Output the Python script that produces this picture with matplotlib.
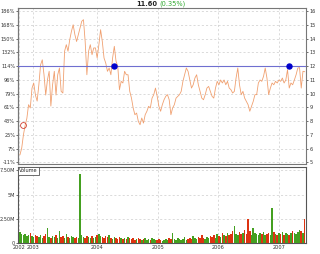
import numpy as np
import pandas as pd
import matplotlib
matplotlib.use("Agg")
import matplotlib.pyplot as plt
import matplotlib.dates as mdates

# closing prices (roughly every 10 days)
close = [5.56, 6.04, 7.0, 7.7, 8.2, 9.2, 8.96, 10.4, 10.78, 9.9,
         9.46, 10.65, 12.1, 12.47, 11.38, 9.9, 11.0, 11.63, 9.1, 10.65,
         11.63, 9.9, 11.38, 11.87, 10.17, 10.05, 13.09, 13.57, 13.09, 13.93,
         14.54, 15.02, 14.3, 13.8, 14.3, 14.78, 15.27, 15.39, 13.8, 11.38,
         13.09, 13.57, 12.84, 13.33,
         13.33, 12.6, 13.57, 14.66, 13.8, 12.6, 12.23, 11.63, 11.87, 11.38,
         12.6, 13.45, 12.36, 12.0, 10.29, 10.9, 10.78, 11.63, 11.38, 11.38,
         10.17, 9.68, 8.96, 8.47, 8.59, 7.99, 7.74, 8.23, 7.86, 8.47,
         8.72, 9.08, 8.96, 9.68, 9.93, 10.41, 9.81, 9.08, 8.72,
         9.2, 9.56, 9.81, 9.93, 9.56, 8.47, 8.96, 9.2, 9.68, 9.81,
         9.93, 10.17, 10.9, 11.38, 11.87, 11.63, 11.0, 10.41, 10.65, 11.14,
         11.38, 10.65, 10.17, 9.68, 9.56, 9.93, 10.41, 10.53, 10.17, 9.81,
         9.68, 10.41, 10.9, 10.65, 11.0, 10.78, 11.0, 10.65, 10.9, 10.41,
         10.29, 10.05, 10.17, 11.14, 11.87, 10.65, 9.93, 10.17, 9.68, 9.44,
         9.2, 8.72, 9.08, 9.44, 9.93, 9.93, 10.78, 11.0, 10.9, 11.26,
         11.87, 11.14, 9.93, 10.41, 10.78, 10.65, 10.9, 10.78, 11.0, 10.9,
         11.14, 10.78, 11.0, 11.75, 10.41, 10.78, 10.65, 11.0, 11.38, 11.87,
         11.9, 10.41, 11.63, 11.6]

# volume in millions
volume = [1.1, 0.9, 0.8, 0.9, 0.7, 0.8, 1.0, 0.7, 0.6, 0.8,
          0.7, 0.6, 0.8, 0.5, 0.7, 0.9, 1.5, 0.6, 0.5, 0.7,
          0.6, 0.8, 0.5, 1.2, 0.6, 0.7, 0.5, 0.9, 0.6, 0.5,
          0.7, 0.6, 0.5, 0.6, 0.5, 7.1, 0.8, 0.6, 0.5, 0.7,
          0.6, 0.5, 0.7, 0.5, 0.6, 0.8, 0.9, 0.7, 0.6, 0.5,
          0.7, 0.6, 0.8, 0.5, 0.4, 0.6, 0.5, 0.4, 0.6, 0.5,
          0.4, 0.5, 0.4, 0.6, 0.5, 0.4, 0.5, 0.3, 0.4, 0.5,
          0.4, 0.3, 0.4, 0.5, 0.3, 0.4, 0.3, 0.5, 0.4, 0.3,
          0.3, 0.4, 0.3, 0.2, 0.3, 0.4, 0.3, 0.5, 0.4, 1.0,
          0.4, 0.3, 0.5, 0.4, 0.3, 0.4, 0.6, 0.3, 0.4, 0.5,
          0.4, 0.7, 0.5, 0.4, 0.6, 0.5, 0.8, 0.5, 0.4, 0.6,
          0.5, 0.7, 0.6, 0.8, 0.5, 0.9, 0.7, 0.6, 1.0, 0.8,
          0.7, 1.0, 0.8, 0.9, 1.2, 1.8, 0.9, 0.8, 1.1, 0.9,
          1.0, 1.3, 0.9, 2.5, 1.2, 0.8, 1.6, 1.0, 0.9, 0.8,
          1.0, 0.9, 1.1, 0.8, 0.9, 1.0, 0.8, 3.6, 1.1, 0.9,
          0.8, 1.0, 0.9, 1.1, 0.8, 1.0, 0.9, 0.8, 1.0, 1.2,
          1.0, 0.9, 1.1, 1.3, 1.2, 1.0, 2.5]

dates = pd.date_range("2002-09-25", "2007-06-04", periods=len(close))

price_ticks = [5, 6, 7, 8, 9, 10, 11, 12, 13, 14, 15, 16]
pct_labels = ["-11%", "7%", "25%", "43%", "61%", "79%", "96%", "114%",
              "132%", "150%", "168%", "186%"]
vol_ticks = [0, 2.5, 5, 7.5]
vol_labels = ["0", "2.50M", "5M", "7.50M"]
year_ticks = ["2002-09-20", "2002-12-10", "2004-01-01", "2005-01-01",
              "2006-01-01", "2007-01-01"]
year_labels = ["2002", "2003", "2004", "2005", "2006", "2007"]

level = 12.0
level_marks = ["2004-04-13", "2007-03-01"]
start_mark = ("2002-10-11", 7.7)

fs = 3.6
grid_kw = dict(color="#cccccc", linestyle=(0, (3, 3)), linewidth=0.5)

fig = plt.figure(figsize=(3.2, 2.54), dpi=100)
ax = fig.add_axes([0.05625, 0.3543, 0.9, 0.6142])
axv = fig.add_axes([0.05625, 0.0433, 0.9, 0.2992], sharex=ax)

xt = pd.to_datetime(year_ticks)

# price panel
ax.plot(dates, close, color="#f0a070", linewidth=0.6, zorder=3)
ax.axhline(level, color="#6f6fd0", linewidth=0.8, zorder=4)
ax.plot(pd.to_datetime(level_marks), [level, level], "o", color="#0000cc",
        markersize=3.6, zorder=5)
ax.plot(pd.to_datetime([start_mark[0]]), [start_mark[1]], "o", mfc="none",
        mec="#d04030", markersize=4.2, markeredgewidth=0.6, zorder=5)
ax.set_ylim(4.88, 16.24)
ax.set_xlim(pd.Timestamp("2002-09-13"), pd.Timestamp("2007-06-12"))
ax.yaxis.tick_right()
ax.set_yticks(price_ticks)
ax.set_yticklabels([str(p) for p in price_ticks])
sec = ax.secondary_yaxis("left")
sec.set_yticks(price_ticks)
sec.set_yticklabels(pct_labels)
sec.tick_params(labelsize=fs, length=1.5, width=0.5, pad=0.5, colors="#333333")
ax.tick_params(axis="y", labelsize=fs, length=1.5, width=0.5, pad=1, colors="#333333")
ax.set_xticks(xt)
ax.tick_params(axis="x", labelbottom=False, length=0)
ax.grid(True, **grid_kw)
for s in ax.spines.values():
    s.set_color("#777777")
    s.set_linewidth(0.8)
sec.spines["left"].set_color("#777777")

# title
fig.text(0.4922, 0.984, "11.60", fontsize=4.8, fontweight="bold",
         ha="right", va="center", color="#222222")
fig.text(0.4985, 0.984, "(0.35%)", fontsize=4.8, ha="left", va="center",
         color="#33aa33")

# volume panel
cols = ["#44a020" if i == 0 or close[i] >= close[i - 1] else "#dd3311"
        for i in range(len(close))]
axv.bar(dates, volume, width=9, color=cols, linewidth=0, zorder=3)
axv.set_ylim(0, 7.85)
axv.set_yticks(vol_ticks)
axv.set_yticklabels(vol_labels)
axv.set_xticks(xt)
axv.set_xticklabels(year_labels)
axv.tick_params(axis="y", labelsize=fs, length=1.5, width=0.5, pad=0.5, colors="#333333")
axv.tick_params(axis="x", labelsize=fs, length=0, pad=1.5, colors="#333333")
axv.grid(True, **grid_kw)
for s in axv.spines.values():
    s.set_color("#555555")
    s.set_linewidth(0.8)
axv.text(0.004, 0.985, "Volume", transform=axv.transAxes, fontsize=fs,
         ha="left", va="top", color="#222222",
         bbox=dict(boxstyle="square,pad=0.3", fc="white", ec="#555555", lw=0.6))

fig.savefig("out.png", dpi=100)
